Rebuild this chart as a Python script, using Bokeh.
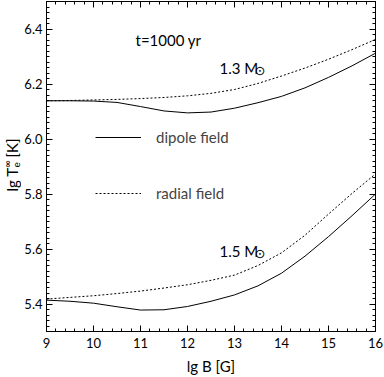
import math
from bokeh.plotting import figure
from bokeh.layouts import row
from bokeh.models import (Range1d, LinearAxis, SingleIntervalTicker, PrintfTickFormatter,
                          CustomJSTickFormatter, Label, Legend, LegendItem)
from bokeh.embed import file_html
from bokeh.resources import INLINE

# ---- data ----
lgB = [9.0, 9.5, 10.0, 10.5, 11.0, 11.5, 12.0, 12.5, 13.0, 13.5, 14.0, 14.5, 15.0, 15.5, 16.0]
t13_dipole = [6.139, 6.139, 6.138, 6.133, 6.118, 6.102, 6.095, 6.098, 6.112, 6.132, 6.155, 6.186, 6.224, 6.266, 6.312]
t13_radial = [6.139, 6.140, 6.142, 6.144, 6.147, 6.151, 6.157, 6.166, 6.180, 6.202, 6.229, 6.258, 6.290, 6.325, 6.362]
t15_dipole = [5.414, 5.410, 5.403, 5.390, 5.378, 5.379, 5.391, 5.410, 5.433, 5.466, 5.512, 5.574, 5.645, 5.721, 5.800]
t15_radial = [5.418, 5.424, 5.430, 5.438, 5.447, 5.458, 5.470, 5.486, 5.505, 5.540, 5.586, 5.650, 5.727, 5.802, 5.873]

series_names = ["dipole field", "radial field"]
mass_labels = ["1.3 M", "1.5 M"]
age_label = "t=1000 yr"
x_label = "lg B [G]"

FONT = "Lato"
SIDE_W = 21

p = figure(width=384 - SIDE_W, height=377, x_range=Range1d(9, 16), y_range=Range1d(5.3, 6.5),
           output_backend="svg", toolbar_location=None,
           x_axis_type=None, y_axis_type=None,
           min_border_left=44 - SIDE_W, min_border_right=9, min_border_top=1, min_border_bottom=44)
p.outline_line_color = "black"
p.background_fill_color = "white"
p.border_fill_color = "white"


def make_axis(kind, show_labels):
    if not show_labels:
        fmt = CustomJSTickFormatter(code="return ''")
    elif kind == "x":
        fmt = PrintfTickFormatter(format="%d")
    else:
        fmt = PrintfTickFormatter(format="%.1f")
    if kind == "x":
        ticker = SingleIntervalTicker(interval=1, num_minor_ticks=5)
    else:
        ticker = SingleIntervalTicker(interval=0.2, num_minor_ticks=10)
    ax = LinearAxis(ticker=ticker, formatter=fmt)
    ax.major_tick_in = 6
    ax.major_tick_out = 0
    ax.minor_tick_in = 3
    ax.minor_tick_out = 0
    ax.axis_line_color = "black"
    ax.major_tick_line_color = "black"
    ax.minor_tick_line_color = "black"
    ax.major_label_text_font = FONT
    ax.major_label_text_color = "black"
    ax.major_label_text_font_size = "13px"
    ax.major_label_standoff = 4 if kind == "y" else 6
    if not show_labels:
        ax.major_label_text_font_size = "0px"
        ax.major_label_standoff = 0
    return ax


xb = make_axis("x", True)
xb.axis_label = x_label
xb.axis_label_text_font = FONT
xb.axis_label_text_font_style = "normal"
xb.axis_label_text_font_size = "15px"
xb.axis_label_text_color = "black"
xb.axis_label_standoff = 6
p.add_layout(xb, "below")
p.add_layout(make_axis("x", False), "above")
p.add_layout(make_axis("y", True), "left")
p.add_layout(make_axis("y", False), "right")

r1 = p.line(lgB, t13_dipole, line_color="black", line_width=1)
r2 = p.line(lgB, t13_radial, line_color="black", line_width=1, line_dash="2 2")
p.line(lgB, t15_dipole, line_color="black", line_width=1)
p.line(lgB, t15_radial, line_color="black", line_width=1, line_dash="2 2")

legend = Legend(items=[LegendItem(label=series_names[0], renderers=[r1]),
                       LegendItem(label=series_names[1], renderers=[r2])],
                location=(49, 128), glyph_width=46, glyph_height=20, label_height=20,
                label_standoff=15, spacing=36, padding=0, margin=0,
                label_text_font=FONT, label_text_font_size="15px",
                border_line_color=None, background_fill_alpha=0)
p.add_layout(legend, "center")


def lab(fig, text, x, y, size="15px", font=FONT, angle=0.0, baseline="alphabetic", align="left"):
    fig.add_layout(Label(x=x, y=y, x_units="screen", y_units="screen", text=text,
                         text_font=font, text_font_size=size, text_color="black",
                         angle=angle, text_baseline=baseline, text_align=align))


lab(p, age_label, 89, 292)
lab(p, mass_labels[0], 173, 264)
lab(p, "\u2299", 208, 261, size="13px", font="DejaVu Sans", baseline="middle")
lab(p, mass_labels[1], 173, 81)
lab(p, "\u2299", 208, 78, size="13px", font="DejaVu Sans", baseline="middle")

# side panel (frame aligned with the main plot's frame) carrying the rotated
# y-axis label: lg T_e^inf [K]
side = figure(width=SIDE_W, height=377, x_range=Range1d(0, 1), y_range=Range1d(0, 1),
              output_backend="svg", toolbar_location=None,
              x_axis_type=None, y_axis_type=None,
              min_border_left=0, min_border_right=0, min_border_top=1, min_border_bottom=44)
side.outline_line_color = None
side.background_fill_color = "white"
side.border_fill_color = "white"
rot = math.pi / 2
lab(side, "lg T", 11.5, 140, angle=rot, baseline="middle")
lab(side, "e", 15.5, 164, size="10px", angle=rot, baseline="middle")
lab(side, "\u221e", 6.5, 164, size="10px", angle=rot, baseline="middle")
lab(side, "[K]", 11.5, 174, angle=rot, baseline="middle")

layout = row(side, p, spacing=0)
open("out.html", "w").write(file_html(layout, INLINE))
